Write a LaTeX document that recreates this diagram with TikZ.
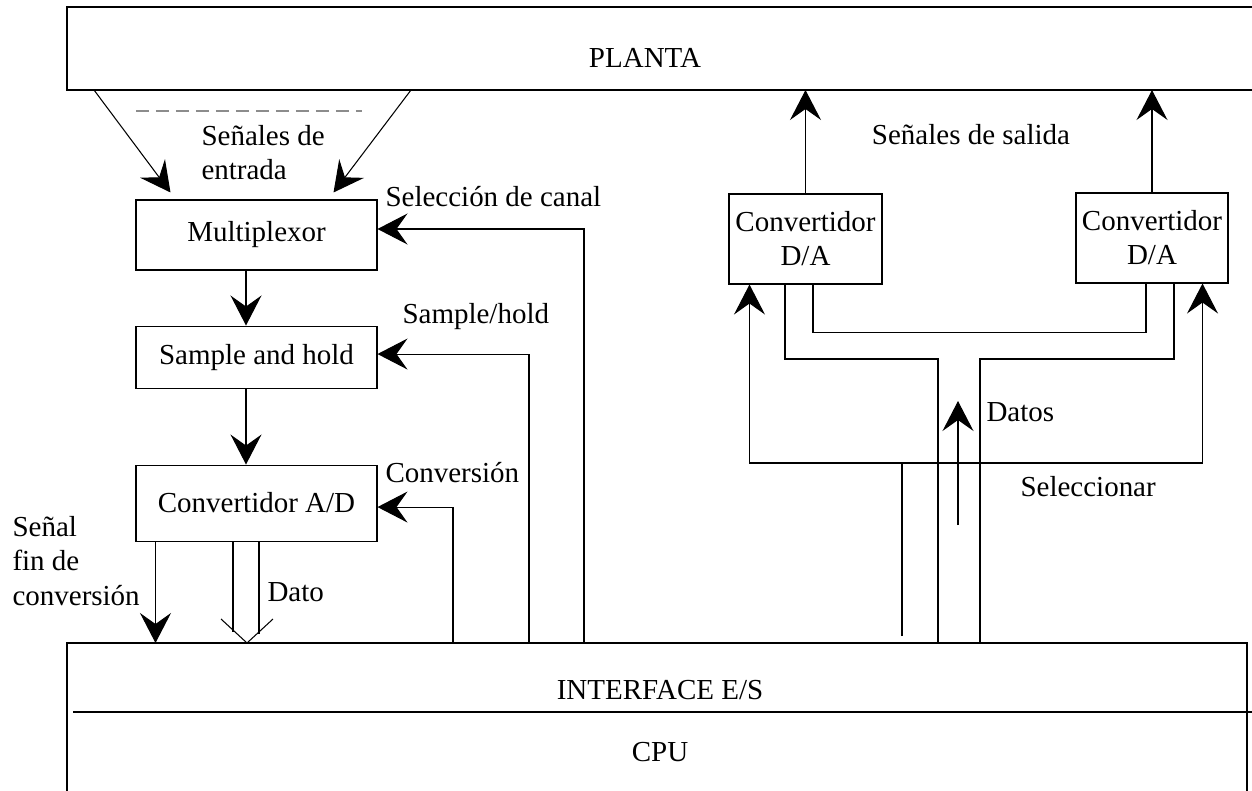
\documentclass[tikz,border=0pt]{standalone}
\usepackage{fontspec}
\setmainfont{Liberation Serif}
\usetikzlibrary{arrows.meta,positioning,calc}

\begin{document}
\begin{tikzpicture}[
    x=0.02cm, y=-0.02cm,
    font=\fontsize{16.5}{19.4}\selectfont,
    line width=0.6pt,
    box/.style={rectangle, draw=black, align=center, inner sep=0pt},
    lbl/.style={inner sep=0pt, align=left, anchor=west},
    sig/.style={-{Stealth[length=0.6cm, width=0.62cm, inset=0.22cm]}},
    sepline/.style={draw=black!45, line width=1.2pt, dash pattern=on 0.27cm off 0.13cm}
]
\useasboundingbox (0,0) rectangle (1252,791);

% planta and interface
\draw (1252,7) -| (67,90) -- (1252,90);
\node (planta) at (645,58) {PLANTA};
\coordinate (pb) at (660,90);
\draw (67,791) |- (1247,643) -- (1247,791);
\draw (73,712) -- (1252,712);
\node (io) at (660,690) {INTERFACE E/S};
\node (cpu) at (660,752) {CPU};
\coordinate (iot) at (660,643);

% input chain
\node[box, minimum width=4.82cm, minimum height=1.4cm] (mux) at (256.5,235) {Multiplexor};
\node[box, minimum width=4.82cm, minimum height=1.24cm, below=1.1cm of mux] (sh) {Sample and hold};
\node[box, minimum width=4.82cm, minimum height=1.52cm, below=1.52cm of sh] (ad) {Convertidor A/D};

\draw[sepline] (136,111) -- (362,111);
\coordinate (e1) at (94,90);
\coordinate (e2) at (411,90);
\draw[sig] (e1) -- ($(mux.north west)+(35,-7)$);
\draw[sig] (e2) -- ($(mux.north east)+(-44,-7)$);
\node[lbl] (lent) at (201,153) {Señales de\\entrada};

\draw[sig] ([xshift=-0.21cm]mux.south) -- ([xshift=-0.21cm]sh.north);
\draw[sig] ([xshift=-0.21cm]sh.south) -- ([xshift=-0.21cm]ad.north);

% control lines
\coordinate (c1) at (584,643);
\coordinate (c2) at (529,643);
\coordinate (c3) at (453,643);
\draw[sig] (c1) |- ([yshift=0.12cm]mux.east);
\draw[sig] (c2) |- ([yshift=0.06cm]sh.east);
\draw[sig] (c3) |- ([yshift=-0.08cm]ad.east);
\node[lbl] (lcanal) at (385,197) {Selección de canal};
\node[lbl] (lsh) at (402,317) {Sample/hold};
\node[lbl] (lconv) at (385,473) {Conversión};

% end of conversion and data
\coordinate (fin) at ([xshift=0.4cm]ad.south west);
\draw[sig] (fin) -- (fin |- iot);
\node[lbl] (lfin) at (12,561) {Señal\\fin de\\conversión};

\coordinate (dL) at ([xshift=-0.47cm]ad.south);
\coordinate (dR) at ([xshift=0.05cm]ad.south);
\coordinate (dtip) at (247,643);
\draw (dL) -- ++(0,90);
\draw (dR) -- ++(0,92);
\draw ($(dtip)+(-26,-24)$) -- (dtip) -- ($(dtip)+(26,-24)$);
\node[lbl] (ldato) at (267,592) {Dato};

% output side
\node[box, minimum width=3.06cm, minimum height=1.8cm] (da1) at (805.5,239) {Convertidor\\D/A};
\node[box, minimum width=3.04cm, minimum height=1.8cm] (da2) at (1152,238) {Convertidor\\D/A};
\draw[sig] (da1.north) -- (da1.north |- pb);
\draw[sig] (da2.north) -- (da2.north |- pb);
\node (lsal) at (971,135) {Señales de salida};

\coordinate (ssrc) at (902,636);
\coordinate (smid) at (902,463);
\draw (ssrc) -- (smid);
\draw[sig] (smid) -| ([xshift=0.42cm]da1.south west);
\draw[sig] (smid) -| ([xshift=-0.52cm]da2.south east);
\node[lbl] (lsel) at (1020,487) {Seleccionar};

\coordinate (bL) at (938,359);
\coordinate (bR) at (980,359);
\draw ([xshift=-0.41cm]da1.south) |- (bL) -- (bL |- iot);
\draw ([xshift=0.44cm]da2.south) |- (bR) -- (bR |- iot);
\draw ([xshift=0.15cm]da1.south) -- ++(0,48) -| ([xshift=-0.12cm]da2.south);

\coordinate (dat0) at (958,525);
\coordinate (dat1) at (958,401);
\draw[sig] (dat0) -- (dat1);
\node[lbl] (ldatos) at (986,412) {Datos};
\end{tikzpicture}
\end{document}
